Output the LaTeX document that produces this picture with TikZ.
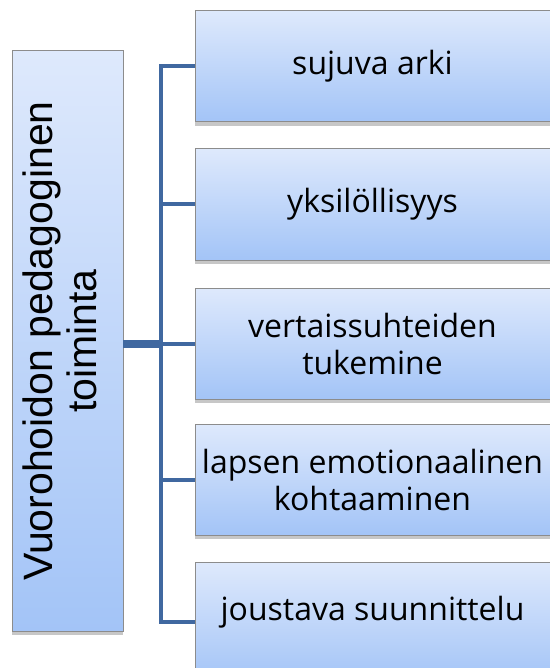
\documentclass[tikz,border=0pt]{standalone}
\usepackage{fontspec}
\setmainfont{Open Sans}
\newfontfamily\leftfont{Liberation Sans}
\usetikzlibrary{shadows}
\definecolor{boxtop}{RGB}{222,233,252}
\definecolor{boxbot}{RGB}{163,196,247}
\definecolor{boxedge}{RGB}{140,140,140}
\definecolor{conn}{RGB}{64,104,160}
\begin{document}
\begin{tikzpicture}[x=1pt,y=-1pt,
  box/.style={draw=boxedge, line width=1pt, top color=boxtop, bottom color=boxbot,
    drop shadow={shadow xshift=0pt, shadow yshift=-4pt, fill=black, opacity=0.22},
    inner sep=0pt, outer sep=0pt},
  itembox/.style={box, minimum width=355pt, minimum height=111pt},
  itemtext/.style={align=center, inner sep=0pt, font=\fontsize{32}{37}\selectfont},
  link/.style={draw=conn, line width=4pt},
  mainlink/.style={draw=conn, line width=8pt}
]
\useasboundingbox (0,0) rectangle (549,668);
% boxes
\node[box, minimum width=111pt, minimum height=580pt] (lb) at (67.5,341) {};
\node[itembox] (b1) at (372.5,66.5) {};
\node[itembox] (b2) at (372.5,204.5) {};
\node[itembox] (b3) at (372.5,343.5) {};
\node[itembox] (b4) at (372.5,479.5) {};
\node[itembox, minimum height=120pt] (b5) at (372.5,622) {};
% connectors
\coordinate (tx) at (161,0);
\draw[link] (b1.west) -- (b1.west -| tx) -- (b5.west -| tx) -- (b5.west);
\draw[link] (b2.west -| tx) -- (b2.west);
\draw[link] (b3.west -| tx) -- (b3.west);
\draw[link] (b4.west -| tx) -- (b4.west);
\draw[mainlink] (lb.east |- b3.west) -- (b3.west -| tx);
% texts
\node[rotate=90, align=center, inner sep=0pt, font=\leftfont\fontsize{41}{44}\selectfont] (lt) at (59.5,341) {Vuorohoidon pedagoginen\\toiminta};
\node[itemtext] (t1) at (b1.center) {sujuva arki};
\node[itemtext] (t2) at (b2.center) {yksilöllisyys};
\node[itemtext] (t3) at (b3.center) {vertaissuhteiden\\tukemine};
\node[itemtext] (t4) at (b4.center) {lapsen emotionaalinen\\kohtaaminen};
\node[itemtext] (t5) at (372.5,612) {joustava suunnittelu};
\end{tikzpicture}
\end{document}
